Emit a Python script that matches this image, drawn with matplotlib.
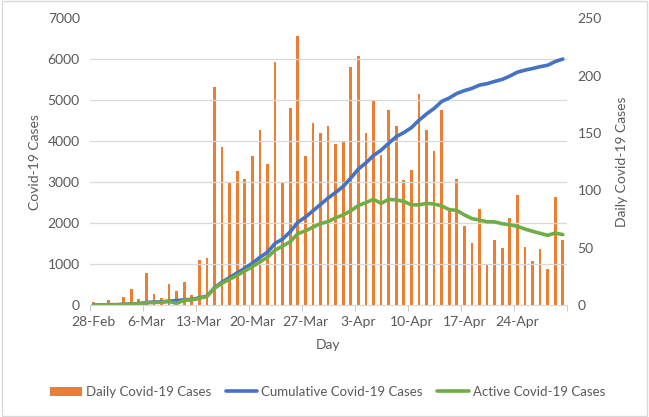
import numpy as np
import matplotlib
matplotlib.use("Agg")
import matplotlib.pyplot as plt
from matplotlib.patches import Rectangle

# -------------------
# Data, one value per day from 28-Feb to 30-Apr
# -------------------
day_labels = ['28-Feb', '6-Mar', '13-Mar', '20-Mar', '27-Mar', '3-Apr',
              '10-Apr', '17-Apr', '24-Apr']

daily = [3, 0, 4, 0, 7, 14, 5, 28, 10, 6, 18, 12, 20, 9, 39, 41, 190, 138,
         107, 117, 110, 130, 153, 123, 212, 106, 172, 235, 130, 159, 150, 156,
         140, 142, 208, 217, 150, 179, 131, 170, 156, 109, 118, 184, 153, 134,
         170, 83, 110, 69, 54, 84, 36, 57, 50, 76, 96, 51, 38, 49, 31, 94, 57]

cumulative = [3, 3, 7, 7, 14, 28, 33, 61, 71, 77, 95, 107, 127, 136, 175, 216,
              420, 560, 670, 785, 895, 1020, 1165, 1290, 1505, 1610, 1790,
              2020, 2145, 2300, 2455, 2610, 2750, 2895, 3100, 3320, 3470,
              3650, 3780, 3950, 4110, 4210, 4330, 4510, 4665, 4800, 4970,
              5055, 5165, 5235, 5290, 5370, 5405, 5460, 5510, 5590, 5685,
              5735, 5775, 5820, 5855, 5945, 6005]

active = [3, 3, 7, 7, 14, 25, 30, 55, 62, 70, 85, 40, 115, 125, 165, 210,
          410, 530, 630, 725, 830, 935, 1055, 1165, 1340, 1440, 1545, 1740,
          1810, 1900, 1990, 2035, 2130, 2200, 2300, 2430, 2500, 2580, 2482,
          2580, 2565, 2530, 2445, 2445, 2482, 2465, 2420, 2330, 2310, 2200,
          2110, 2075, 2034, 2030, 1985, 1960, 1920, 1855, 1800, 1750, 1700,
          1758, 1718]

days = np.arange(len(daily))

text_color = '#595959'
plt.rcParams['font.family'] = ['Lato', 'DejaVu Sans']
plt.rcParams['font.size'] = 10

fig = plt.figure(figsize=(6.49, 4.17), dpi=100)
ax1 = fig.add_axes([0.138, 0.2686, 0.735, 0.6874])   # lines, left scale
ax2 = ax1.twinx()                                    # bars, right scale
ax2.set_zorder(ax1.get_zorder() - 1)
ax1.patch.set_visible(False)
ax2.patch.set_visible(True)
ax2.patch.set_facecolor('white')

# bars
ax2.bar(days, daily, width=0.36, color='#ED7D31', label='Daily Covid-19 Cases')
ax2.set_ylim(0, 250)
ax2.set_yticks(np.arange(0, 251, 50))

# gridlines of the left scale, drawn behind the bars
ax2.set_yticks(np.arange(1, 8) * 250 / 7, minor=True)
ax2.grid(True, which='minor', axis='y', color='#d9d9d9', linewidth=0.9)
ax2.tick_params(axis='y', which='minor', length=0)

# lines
ax1.plot(days, cumulative, color='#4472C4', linewidth=2.6,
         solid_capstyle='round', label='Cumulative Covid-19 Cases')
ax1.plot(days, active, color='#70AD47', linewidth=2.6,
         solid_capstyle='round', label='Active Covid-19 Cases')
ax1.set_ylim(0, 7000)
ax1.set_yticks(np.arange(0, 7001, 1000))

ax1.set_xlim(-0.5, len(daily) - 0.5)
ax1.set_xticks(np.arange(0, len(daily), 7))
ax1.set_xticklabels(day_labels)
ax1.set_xticks(np.arange(-0.5, len(daily), 7), minor=True)
ax1.tick_params(axis='x', which='major', length=0, pad=8, colors=text_color)
ax1.tick_params(axis='x', which='minor', length=4, color='#bfbfbf')
ax1.tick_params(axis='y', length=0, pad=7, colors=text_color)
ax2.tick_params(axis='y', which='major', length=0, pad=8, colors=text_color)

for a in (ax1, ax2):
    for s in ['top', 'left', 'right']:
        a.spines[s].set_visible(False)
ax2.spines['bottom'].set_visible(False)
ax1.spines['bottom'].set_color('#d9d9d9')

ax1.set_xlabel('Day', color=text_color, fontsize=10, labelpad=8)
ax1.set_ylabel('Covid-19 Cases', color=text_color, fontsize=10, labelpad=5)
ax2.set_ylabel('Daily Covid-19 Cases', color=text_color, fontsize=10, labelpad=10)

# legend at bottom
h2, l2 = ax2.get_legend_handles_labels()
h1, l1 = ax1.get_legend_handles_labels()
leg = fig.legend(h2 + h1, l2 + l1, loc='center', bbox_to_anchor=(0.505, 0.06),
                 ncol=3, frameon=False, handlelength=2.4, handletextpad=0.3,
                 columnspacing=1.1, fontsize=9.5)
for t in leg.get_texts():
    t.set_color(text_color)

# chart border
fig.patches.append(Rectangle((0.003, 0.003), 0.994, 0.994, transform=fig.transFigure,
                             fill=False, edgecolor='#d9d9d9', linewidth=1))

fig.savefig('out.png', dpi=100)
